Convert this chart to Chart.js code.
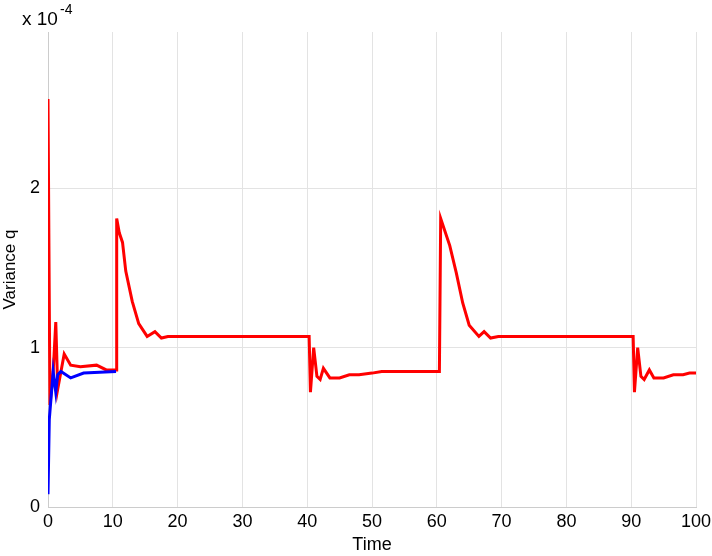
<!DOCTYPE html>
<html>
<head>
<meta charset="utf-8">
<script src="https://cdn.jsdelivr.net/npm/chart.js@4.4.1/dist/chart.umd.min.js"></script>
<style>
  body { margin: 0; background: #fff; }
  #wrap { width: 712px; height: 556px; }
</style>
</head>
<body>
<div id="wrap"><canvas id="variance" width="712" height="556"></canvas></div>
<script>
// values in units of 1e-4
var redTime = [0, 0.3, 0.8, 1.2, 1.5, 2.5, 3.5, 5, 7.5, 9, 10.5, 10.6, 11, 11.5, 12, 13, 14, 15.3, 16.5, 17.5, 18.5,
    40.3, 40.5, 41, 41.5, 42, 42.5, 43.5, 45, 46.5, 48, 50, 51.5,
    60.4, 60.6, 62, 63, 64, 65, 66.5, 67.3, 68.3, 69.5,
    90.3, 90.5, 91, 91.5, 92, 92.8, 93.5, 95, 96.5, 98, 99, 100];
var redVar = [2.56, 0.64, 0.85, 1.16, 0.74, 0.96, 0.89, 0.88, 0.89, 0.86, 0.86, 1.81, 1.72, 1.66, 1.48, 1.29, 1.15, 1.07, 1.10, 1.06, 1.07,
    1.07, 0.72, 1.00, 0.82, 0.80, 0.87, 0.81, 0.81, 0.83, 0.83, 0.84, 0.85,
    0.85, 1.81, 1.64, 1.47, 1.28, 1.14, 1.07, 1.10, 1.06, 1.07,
    1.07, 0.72, 1.00, 0.82, 0.80, 0.86, 0.81, 0.81, 0.83, 0.83, 0.84, 0.84];
var blueTime = [0, 0.2, 0.8, 1.2, 1.5, 2, 3.5, 5.5, 10.5];
var blueVar = [0.08, 0.55, 0.85, 0.72, 0.83, 0.85, 0.81, 0.84, 0.85];
var xTicks = [0, 10, 20, 30, 40, 50, 60, 70, 80, 90, 100];
var yTicks = [0, 1, 2];

function toPoints(t, v) {
    return t.map(function (x, i) { return { x: x, y: v[i] }; });
}

var font = { family: '"Liberation Sans", Arial, sans-serif', size: 18 };

var exponentLabel = {
    id: 'exponentLabel',
    afterDraw: function (chart) {
        var ctx = chart.ctx;
        ctx.save();
        ctx.fillStyle = '#000';
        ctx.textBaseline = 'alphabetic';
        ctx.font = '19px "Liberation Sans", Arial, sans-serif';
        ctx.fillText('x 10', 22, 25);
        ctx.font = '14px "Liberation Sans", Arial, sans-serif';
        ctx.fillText('-4', 60, 14);
        ctx.restore();
    }
};

var chart = new Chart(document.getElementById('variance'), {
    type: 'line',
    data: {
        datasets: [
            {
                label: 'blue',
                data: toPoints(blueTime, blueVar),
                borderColor: '#0000ff',
                borderWidth: 3,
                pointRadius: 0,
                tension: 0,
                fill: false
            },
            {
                label: 'red',
                data: toPoints(redTime, redVar),
                borderColor: '#ff0000',
                borderWidth: 3,
                pointRadius: 0,
                tension: 0,
                fill: false
            }
        ]
    },
    options: {
        responsive: false,
        animation: false,
        layout: { padding: { top: 32, right: 16, left: 0, bottom: 0 } },
        plugins: { legend: { display: false }, tooltip: { enabled: false } },
        scales: {
            x: {
                type: 'linear',
                min: 0,
                max: 100,
                afterBuildTicks: function (s) { s.ticks = xTicks.map(function (v) { return { value: v }; }); },
                afterFit: function (s) { s.height = 49; s.paddingLeft = 0; s.paddingRight = 0; },
                grid: { color: '#e3e3e3', drawTicks: false },
                border: { color: '#cccccc' },
                ticks: { color: '#000', font: font, padding: 4, maxRotation: 0 },
                title: { display: true, text: 'Time', color: '#000', font: font, padding: { top: 0, bottom: 0 } }
            },
            y: {
                min: 0,
                max: 2.98,
                afterBuildTicks: function (s) { s.ticks = yTicks.map(function (v) { return { value: v }; }); },
                afterFit: function (s) { s.width = 48; s.paddingTop = 0; s.paddingBottom = 0; },
                grid: { color: '#e3e3e3', drawTicks: false },
                border: { color: '#cccccc' },
                ticks: { color: '#000', font: font, padding: 8 },
                title: { display: true, text: 'Variance q', color: '#000', font: { family: font.family, size: 17 }, padding: { top: 0, bottom: 0 } }
            }
        }
    },
    plugins: [exponentLabel]
});
</script>
</body>
</html>
